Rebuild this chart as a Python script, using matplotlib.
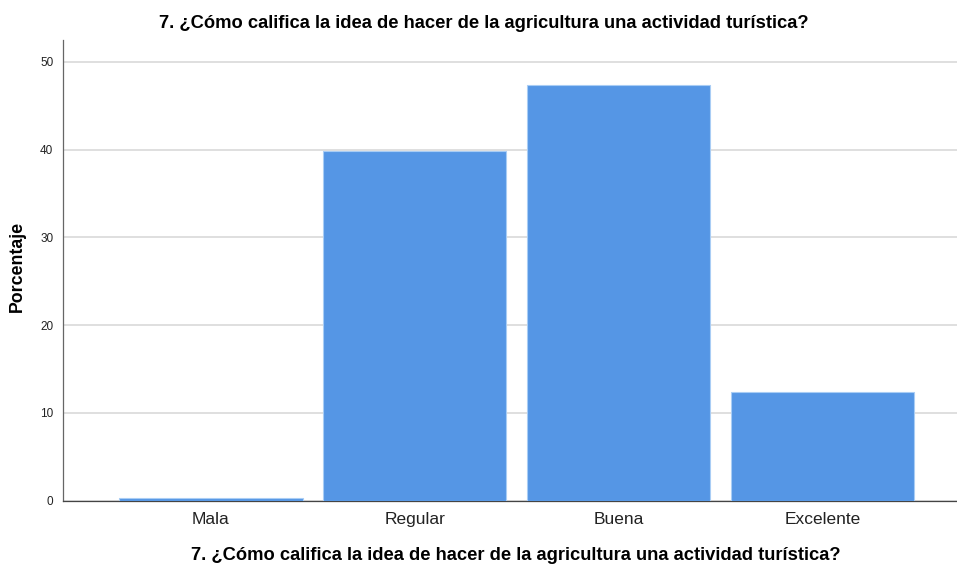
import matplotlib
matplotlib.use("Agg")
import matplotlib.pyplot as plt

categories = ["Mala", "Regular", "Buena", "Excelente"]
values = [0.3, 39.9, 47.4, 12.4]
yticks = [0, 10, 20, 30, 40, 50]
title = "7. ¿Cómo califica la idea de hacer de la agricultura una actividad turística?"

plt.rcParams['font.family'] = ['Liberation Sans', 'DejaVu Sans']

fig = plt.figure(figsize=(9.57, 5.67), dpi=100)
ax = fig.add_axes([63/957, 1 - 500.7/567, (957-63)/957, (500.7-40)/567])

x = list(range(len(categories)))
ax.bar(x, values, width=0.9, color="#5596e5", edgecolor="#a9cdf5", linewidth=0.8, zorder=3)

ax.set_xlim(-0.725, 3.66)
ax.set_ylim(0, 52.5)
ax.set_yticks(yticks)
ax.set_yticklabels([str(t) for t in yticks], fontsize=8.5)
ax.set_xticks(x)
ax.set_xticklabels(categories, fontsize=12.5)
ax.tick_params(axis='x', length=0, pad=8, colors='#222222')
ax.tick_params(axis='y', length=0, pad=7, colors='#222222')

ax.grid(axis='y', color='#d9d9d9', linewidth=1.2, zorder=0)
for s in ['top', 'right']:
    ax.spines[s].set_visible(False)
ax.spines['left'].set_color('#666666')
ax.spines['bottom'].set_color('#444444')
ax.spines['left'].set_linewidth(0.9)
ax.spines['bottom'].set_linewidth(0.9)

fig.text(17/957, 1 - 266/567, "Porcentaje", rotation=90, ha='center', va='center',
         fontsize=12.8, fontweight='bold')
fig.text(516/957, 1 - 555/567, title, ha='center', va='center', fontsize=13.2, fontweight='bold')
fig.text(484/957, 1 - 23/567, title, ha='center', va='center', fontsize=13.2, fontweight='bold')

fig.savefig("out.png", dpi=100)
